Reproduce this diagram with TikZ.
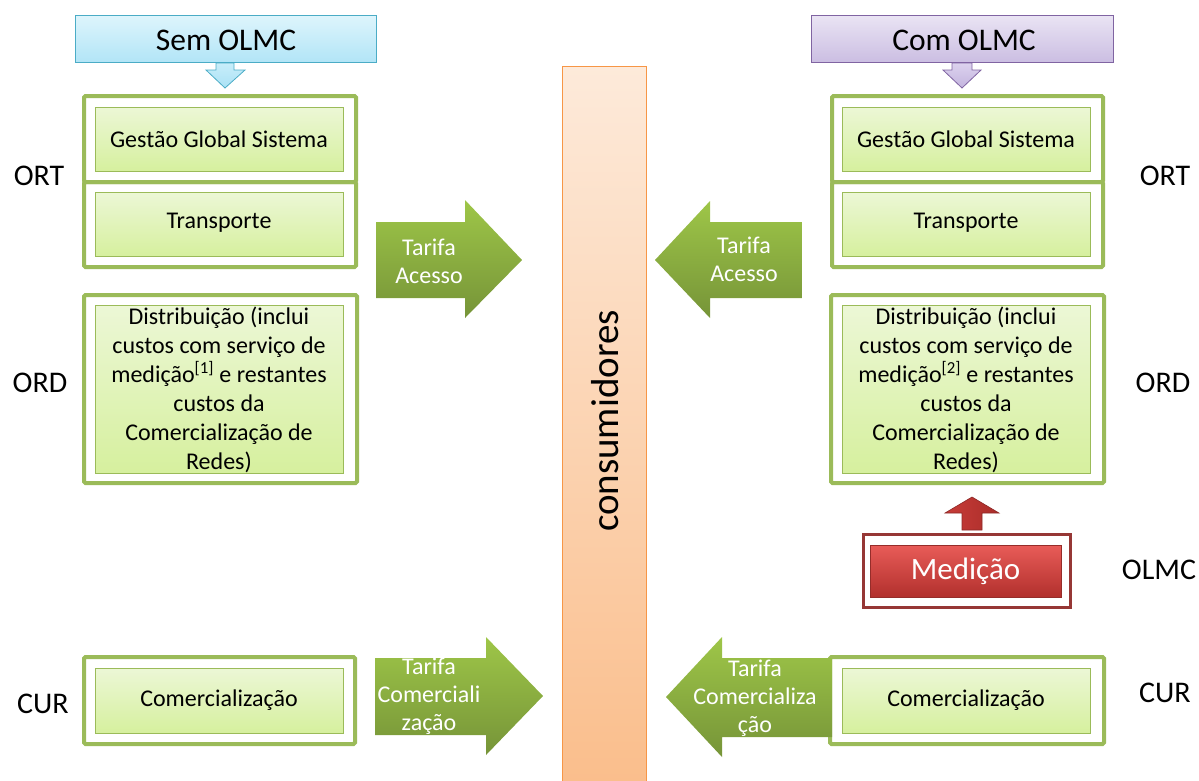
\documentclass[tikz,border=0pt]{standalone}
\usepackage{fontspec}
\setmainfont{Carlito}
% palette
\definecolor{frameG}{RGB}{155,187,89}
\definecolor{boxTop}{RGB}{236,247,214}
\definecolor{boxBot}{RGB}{214,240,158}
\definecolor{arrTop}{RGB}{158,198,72}
\definecolor{arrBot}{RGB}{118,148,56}
\definecolor{colEdge}{RGB}{247,150,70}
\definecolor{colTop}{RGB}{253,234,218}
\definecolor{colBot}{RGB}{250,190,140}
\definecolor{cyanEdge}{RGB}{75,172,198}
\definecolor{cyanTop}{RGB}{222,245,252}
\definecolor{cyanBot}{RGB}{178,229,247}
\definecolor{cyanA}{RGB}{200,238,250}
\definecolor{cyanB}{RGB}{170,225,245}
\definecolor{purEdge}{RGB}{128,100,162}
\definecolor{purTop}{RGB}{234,228,244}
\definecolor{purBot}{RGB}{203,190,226}
\definecolor{purA}{RGB}{220,210,238}
\definecolor{purB}{RGB}{195,180,222}
\definecolor{redFrame}{RGB}{150,55,53}
\definecolor{redEdge}{RGB}{150,45,42}
\definecolor{redTop}{RGB}{232,92,88}
\definecolor{redBot}{RGB}{178,48,45}
\definecolor{redArrEdge}{RGB}{140,40,38}
\definecolor{redArrL}{RGB}{200,60,56}
\definecolor{redArrR}{RGB}{170,45,42}
\begin{document}
\begin{tikzpicture}[x=1pt,y=-1pt,
  frame/.style={draw=frameG, line width=4pt, fill=white, rounded corners=1.5pt},
  inbox/.style={draw=frameG, line width=1pt, top color=boxTop, bottom color=boxBot},
  greenarrow/.style={top color=arrTop, bottom color=arrBot, draw=none},
  boxtext/.style={font=\fontsize{24}{29}\selectfont, align=center, text=black},
  arrowtext/.style={font=\fontsize{24}{28}\selectfont, align=center, text=white},
  sidelabel/.style={font=\fontsize{30}{32}\selectfont, text=black},
  headtext/.style={font=\fontsize{31.5}{34}\selectfont, text=black}
]
\useasboundingbox (0,0) rectangle (1199,780);

% consumer column
\path[draw=colEdge, line width=1pt, top color=colTop, bottom color=colBot]
  (562,66) rectangle (646,782);
\node[rotate=90, font=\fontsize{39}{42}\selectfont] (cons) at (605,421) {consumidores};

% headers
\path[draw=cyanEdge, line width=1pt, top color=cyanTop, bottom color=cyanBot]
  (75,15) rectangle (376,62);
\node[headtext] (sem) at (226,40) {Sem OLMC};
\path[draw=cyanEdge, line width=0.8pt, top color=cyanA, bottom color=cyanB]
  (216,63) -- (234,63) -- (234,70) -- (245,70) -- (225,88) -- (206,70) -- (216,70) -- cycle;

\path[draw=purEdge, line width=1pt, top color=purTop, bottom color=purBot]
  (811,15) rectangle (1113,62);
\node[headtext] (com) at (964,40) {Com OLMC};
\path[draw=purEdge, line width=0.8pt, top color=purA, bottom color=purB]
  (952,63) -- (972,63) -- (972,70) -- (981,70) -- (962,88) -- (943,70) -- (952,70) -- cycle;

% ---- left column ----
\draw[frame] (84,182) rectangle (356,267);
\draw[frame] (84,96) rectangle (356,182);
\draw[inbox] (95,107) rectangle (343,171);
\node[boxtext] (lggs) at (219,139) {Gestão Global Sistema};
\draw[inbox] (95,192) rectangle (343,256);
\node[boxtext] (ltr) at (219,223) {Transporte};

\draw[frame] (84,295) rectangle (357,483);
\draw[inbox] (95,305) rectangle (343,473);
\node[boxtext] (ldist) at (219,390) {Distribuição (inclui\\custos com serviço de\\medição\textsuperscript{[1]} e restantes\\custos da\\Comercialização de\\Redes)};

\draw[frame] (84,657) rectangle (355,744);
\draw[inbox] (95,668) rectangle (343,733);
\node[boxtext] (lcom) at (219,700) {Comercialização};

\node[sidelabel] (lort) at (39,176) {ORT};
\node[sidelabel] (lord) at (40,383) {ORD};
\node[sidelabel] (lcur) at (43,704) {CUR};

% ---- right column ----
\draw[frame] (832,182) rectangle (1103,267);
\draw[frame] (832,96) rectangle (1103,182);
\draw[inbox] (842,107) rectangle (1090,171);
\node[boxtext] (rggs) at (966,139) {Gestão Global Sistema};
\draw[inbox] (842,192) rectangle (1090,256);
\node[boxtext] (rtr) at (966,223) {Transporte};

\draw[frame] (831,295) rectangle (1104,483);
\draw[inbox] (842,305) rectangle (1090,473);
\node[boxtext] (rdist) at (966,390) {Distribuição (inclui\\custos com serviço de\\medição\textsuperscript{[2]} e restantes\\custos da\\Comercialização de\\Redes)};

\node[sidelabel] (rort) at (1165,176) {ORT};
\node[sidelabel] (rord) at (1163,383) {ORD};
\node[sidelabel] (rolmc) at (1159,570) {OLMC};
\node[sidelabel] (rcur) at (1165,693) {CUR};

% metering block
\draw[draw=redFrame, line width=3pt, fill=white] (863,534) rectangle (1070,607);
\path[draw=redEdge, line width=0.8pt, top color=redTop, bottom color=redBot]
  (870,545) rectangle (1061,597);
\node[font=\fontsize{31}{34}\selectfont, text=white] (med) at (965.5,571) {Medição};
\path[draw=redArrEdge, line width=0.6pt, left color=redArrL, right color=redArrR]
  (962,530) -- (962,513) -- (945,513) -- (972,497) -- (999,513) -- (982,513) -- (982,530) -- cycle;

% right bottom frame first, arrow drawn over its edge
\draw[frame] (830,657) rectangle (1104,744);
\draw[inbox] (842,668) rectangle (1090,733);
\node[boxtext] (rcom) at (966,700) {Comercialização};

% tariff arrows
\path[greenarrow] (376,222) -- (465,222) -- (465,200) -- (522,260) -- (465,318) -- (465,298) -- (376,298) -- cycle;
\node[arrowtext] (lta) at (429,261) {Tarifa\\Acesso};

\path[greenarrow] (802,222) -- (710,222) -- (710,201) -- (655,260) -- (710,318) -- (710,298) -- (802,298) -- cycle;
\node[arrowtext] (rta) at (744,259) {Tarifa\\Acesso};

\path[greenarrow] (375,658) -- (486,658) -- (486,637) -- (543,696) -- (486,755) -- (486,735) -- (375,735) -- cycle;
\node[arrowtext] (ltc) at (429,696) {Tarifa\\Comerciali\\zação};

\path[greenarrow] (832,658) -- (722,658) -- (722,637) -- (666,697) -- (722,757) -- (722,737) -- (832,737) -- cycle;
\node[arrowtext] (rtc) at (755,698) {Tarifa\\Comercializa\\ção};
\end{tikzpicture}
\end{document}
